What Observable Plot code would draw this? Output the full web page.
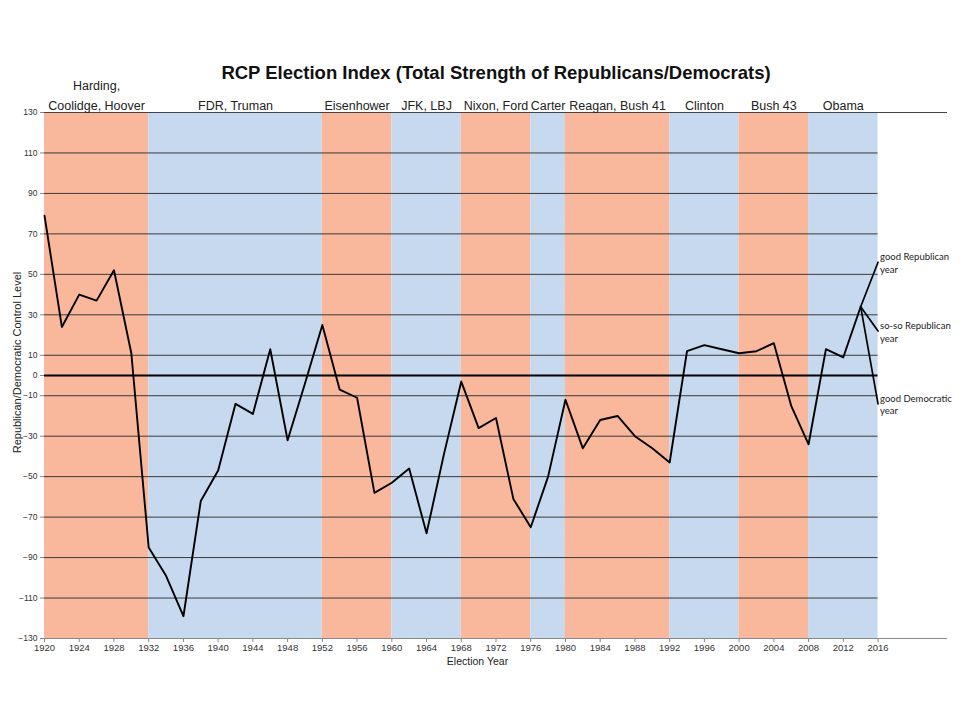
<!DOCTYPE html>
<html>
<head>
<meta charset="utf-8">
<script src="https://cdn.jsdelivr.net/npm/d3@7"></script>
<script src="https://cdn.jsdelivr.net/npm/@observablehq/plot@0.6"></script>
<style>
  html, body { margin: 0; padding: 0; background: white; }
  #chart svg { display: block; }
</style>
</head>
<body>
<div id="chart"></div>
<script>
// ---- Data ----
const titleText = "RCP Election Index (Total Strength of Republicans/Democrats)";
const years = [1920, 1922, 1924, 1926, 1928, 1930, 1932, 1934, 1936, 1938, 1940, 1942, 1944, 1946, 1948, 1950,
  1952, 1954, 1956, 1958, 1960, 1962, 1964, 1966, 1968, 1970, 1972, 1974, 1976, 1978, 1980, 1982,
  1984, 1986, 1988, 1990, 1992, 1994, 1996, 1998, 2000, 2002, 2004, 2006, 2008, 2010, 2012, 2014];
const values = [79, 24, 40, 37, 52, 11, -85, -99, -119, -62, -47, -14, -19, 13, -32, -4,
  25, -7, -11, -58, -53, -46, -78, -39, -3, -26, -21, -61, -75, -50, -12, -36,
  -22, -20, -30, -36, -43, 12, 15, 13, 11, 12, 16, -15, -34, 13, 9, 34];

const scenarioLabels = ["good Republican\nyear", "so-so Republican\nyear", "good Democratic\nyear"];
const scenarioValues = [56, 22, -14];
const scenarioYear = 2016;

const bandStarts = [1920, 1932, 1952, 1960, 1968, 1976, 1980, 1992, 2000, 2008];
const bandEnds   = [1932, 1952, 1960, 1968, 1976, 1980, 1992, 2000, 2008, 2016];
const bandParty  = ["R", "D", "R", "D", "R", "D", "R", "D", "R", "D"];
const bandNames  = ["Harding,\nCoolidge, Hoover", "FDR, Truman", "Eisenhower", "JFK, LBJ", "Nixon, Ford",
  "Carter", "Reagan, Bush 41", "Clinton", "Bush 43", "Obama"];

const xTicks = [1920, 1924, 1928, 1932, 1936, 1940, 1944, 1948, 1952, 1956, 1960, 1964, 1968, 1972,
  1976, 1980, 1984, 1988, 1992, 1996, 2000, 2004, 2008, 2012, 2016];
const yTicks = [130, 110, 90, 70, 50, 30, 10, 0, -10, -30, -50, -70, -90, -110, -130];
const gridLines = [110, 90, 70, 50, 30, 10, -10, -30, -50, -70, -90, -110];

// ---- Tables built from arrays ----
const series = years.map((y, i) => ({year: y, value: values[i]}));
const lastYear = years[years.length - 1];
const lastVal = values[values.length - 1];
const branches = [];
scenarioValues.forEach((v, i) => {
  branches.push({year: lastYear, value: lastVal, branch: "s" + i});
  branches.push({year: scenarioYear, value: v, branch: "s" + i});
});
const scen = scenarioValues.map((v, i) => ({year: scenarioYear, value: v, label: scenarioLabels[i]}));
const bands = bandStarts.map((s, i) => ({start: s, end: bandEnds[i], mid: (s + bandEnds[i]) / 2, party: bandParty[i], name: bandNames[i]}));

const font = "Arial, 'Liberation Sans', sans-serif";

const chart = Plot.plot({
  width: 960,
  height: 720,
  marginLeft: 44,
  marginRight: 13,
  marginTop: 112,
  marginBottom: 82,
  style: {fontFamily: font, background: "white", color: "#333"},
  x: {domain: [1920, 2024]},
  y: {domain: [-130, 130]},
  color: {domain: ["R", "D"], range: ["#F9B79B", "#C6D9EF"]},
  marks: [
    Plot.rect(bands, {x1: "start", x2: "end", y1: -130, y2: 130, fill: "party"}),
    Plot.ruleY(gridLines, {x1: 1920, x2: 2016, stroke: "#3a3a3a", strokeWidth: 1}),
    Plot.ruleY([0], {x1: 1920, x2: 2016, stroke: "#000", strokeWidth: 1.8}),
    Plot.ruleY([130], {stroke: "#444", strokeWidth: 1}),
    Plot.ruleY([-130], {stroke: "#888", strokeWidth: 1}),
    Plot.axisX({ticks: xTicks, tickFormat: d => String(d), tickSize: 4, tickPadding: 2, fontSize: 9.5, label: null, stroke: "#888", fill: "#333"}),
    Plot.axisY({ticks: yTicks, tickSize: 4, tickPadding: 3, fontSize: 8.5, label: null, stroke: "#888", fill: "#333"}),
    Plot.line(series, {x: "year", y: "value", stroke: "#000", strokeWidth: 1.9}),
    Plot.line(branches, {x: "year", y: "value", z: "branch", stroke: "#000", strokeWidth: 1.7}),
    Plot.text(scen, {x: "year", y: "value", text: "label", textAnchor: "start", lineAnchor: "middle", dx: 2, fontSize: 9.5, lineHeight: 1.35, fontFamily: "Lato, 'Open Sans', sans-serif", fill: "#222"}),
    Plot.text(bands, {x: "mid", y: 130, text: "name", lineAnchor: "bottom", dy: -3, fontSize: 12.5, lineHeight: 1.6, fill: "#222"}),
    Plot.text([titleText], {frameAnchor: "top", dy: -39, lineAnchor: "middle", fontSize: 18.5, fontWeight: "bold", fill: "#111"}),
    Plot.text(["Republican/Democratic Control Level"], {frameAnchor: "left", textAnchor: "middle", dx: -27, dy: -13, rotate: -90, fontSize: 11, fill: "#222"}),
    Plot.text(["Election Year"], {frameAnchor: "bottom", textAnchor: "middle", dx: -18.5, dy: 23, lineAnchor: "middle", fontSize: 10.5, fill: "#222"})
  ]
});
document.getElementById("chart").appendChild(chart);
</script>
</body>
</html>
